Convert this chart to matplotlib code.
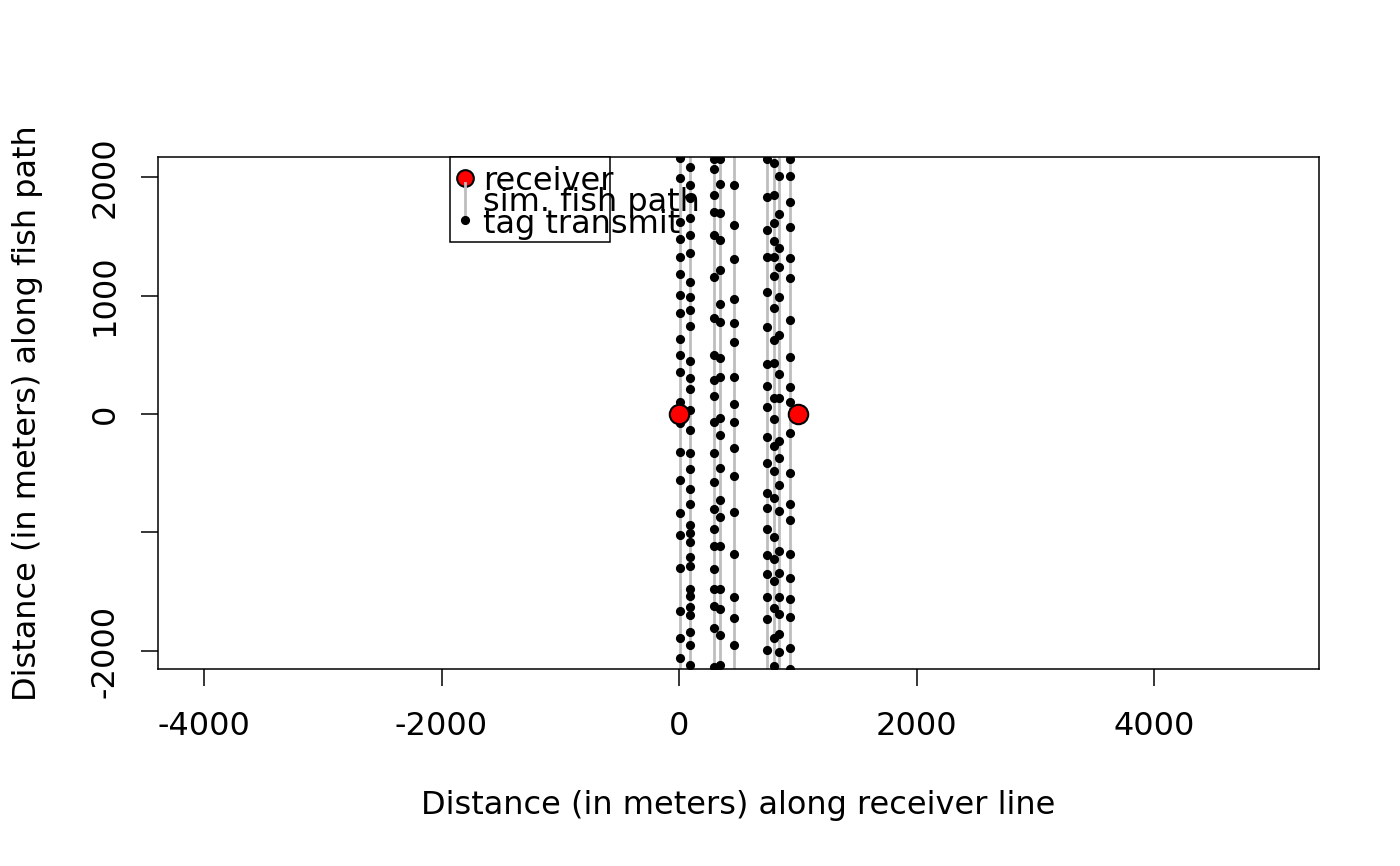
import matplotlib
matplotlib.use("Agg")
import matplotlib.pyplot as plt
from matplotlib.patches import Rectangle

# receivers on the line (x along receiver line, y along fish path)
receiver_x = [0, 1000]
receiver_y = [0, 0]

# x position of each simulated fish path
path_x = [5, 93, 298, 346, 467, 745, 802, 844, 937]

# tag transmit positions (y, metres) along each path
p1_y = [2160, 1992, 1620, 1477, 1325, 1181, 1004, 852, 633, 498, 354, 101, -76,
        -321, -557, -835, -1021, -1300, -1662, -1890, -2059]
p2_y = [2084, 1933, 1823, 1654, 1511, 1359, 1114, 987, 878, 743, 447, 304, 211,
        34, -135, -329, -464, -633, -760, -937, -1004, -1080, -1207, -1283,
        -1477, -1536, -1629, -1696, -1840, -1949, -2118]
p3_y = [2150, 2068, 1848, 1705, 1511, 1156, 810, 498, 287, 152, -68, -329, -574,
        -802, -970, -1114, -1308, -1477, -1620, -1806, -2135]
p4_y = [2150, 1941, 1696, 1468, 1215, 928, 776, 473, 312, -34, -177, -456, -726,
        -869, -1114, -1477, -1646, -1865, -2118]
p5_y = [1933, 1595, 1308, 970, 768, 608, 312, 84, -68, -287, -523, -827, -1181,
        -1544, -1722, -1949]
p6_y = [2150, 1831, 1553, 1325, 1030, 734, 422, 236, 59, -194, -414, -667, -793,
        -970, -1190, -1350, -1544, -1730, -1992]
p7_y = [2118, 1848, 1612, 1460, 1325, 1165, 895, 624, 430, 135, -42, -270, -481,
        -709, -1038, -1224, -1409, -1637, -1890, -2127]
p8_y = [2008, 1688, 1401, 1241, 987, 667, 338, 135, -228, -371, -599, -819,
        -1156, -1342, -1544, -1688, -1857, -2008]
p9_y = [2152, 2008, 1789, 1578, 1316, 1148, 793, 481, 228, 101, -160, -498, -759,
        -895, -1181, -1384, -1561, -1713, -1975, -2152]
tag_y = [p1_y, p2_y, p3_y, p4_y, p5_y, p6_y, p7_y, p8_y, p9_y]

x_ticks = [-4000, -2000, 0, 2000, 4000]
x_labels = ["-4000", "-2000", "0", "2000", "4000"]
y_ticks = [-2000, -1000, 0, 1000, 2000]
y_labels = ["-2000", "", "0", "1000", "2000"]   # R drops -1000 (overlap)

legend_labels = ["receiver", "sim. fish path", "tag transmit"]

FS = 23
fig = plt.figure(figsize=(14, 8.66), dpi=100)
ax = fig.add_axes([0.1129, 0.2275, 0.8292, 0.5912])

ax.vlines(path_x, -3000, 3000, colors="#bebebe", lw=2, zorder=1)
for x, ys in zip(path_x, tag_y):
    ax.plot([x] * len(ys), ys, "o", color="black", ms=6.6, mew=0, zorder=2)
ax.plot(receiver_x, receiver_y, "o", mfc="red", mec="black", ms=14, mew=1.5,
        zorder=3)

ax.set_xlim(-4387, 5389)
ax.set_ylim(-2152, 2169)
ax.set_xticks(x_ticks)
ax.set_xticklabels(x_labels)
ax.set_yticks(y_ticks)
ax.set_yticklabels(y_labels)
ax.tick_params(direction="out", length=12, width=1.1, labelsize=FS, color="black")
ax.tick_params(axis="x", pad=18)
ax.tick_params(axis="y", pad=15)
plt.setp(ax.get_yticklabels(), rotation=90, va="center", ha="right")
for s in ax.spines.values():
    s.set_linewidth(1.1)

fig.text(0.527, 0.0704, "Distance (in meters) along receiver line",
         ha="center", va="center", fontsize=FS)
fig.text(0.0195, 0.523, "Distance (in meters) along fish path",
         ha="center", va="center", rotation=90, fontsize=FS)

# legend drawn by hand, R style (text overflows box)
ax.add_patch(Rectangle((0.2515, 0.834), 0.1378, 0.166, transform=ax.transAxes,
                       fc="white", ec="black", lw=1.1, zorder=5, clip_on=False))
ax.plot([0.2644], [0.959], "o", mfc="red", mec="black", ms=12, mew=1.5,
        transform=ax.transAxes, zorder=6)
ax.plot([0.2644, 0.2644], [0.949, 0.887], color="#bebebe", lw=2,
        transform=ax.transAxes, zorder=6)
ax.plot([0.2644], [0.877], "o", color="black", ms=6.6, mew=0,
        transform=ax.transAxes, zorder=6)
for lab, yb in zip(legend_labels, [0.9364, 0.8944, 0.8524]):
    ax.text(0.2799, yb, lab, transform=ax.transAxes, fontsize=FS,
            va="baseline", ha="left", zorder=7)

fig.savefig("out.png", dpi=100)
